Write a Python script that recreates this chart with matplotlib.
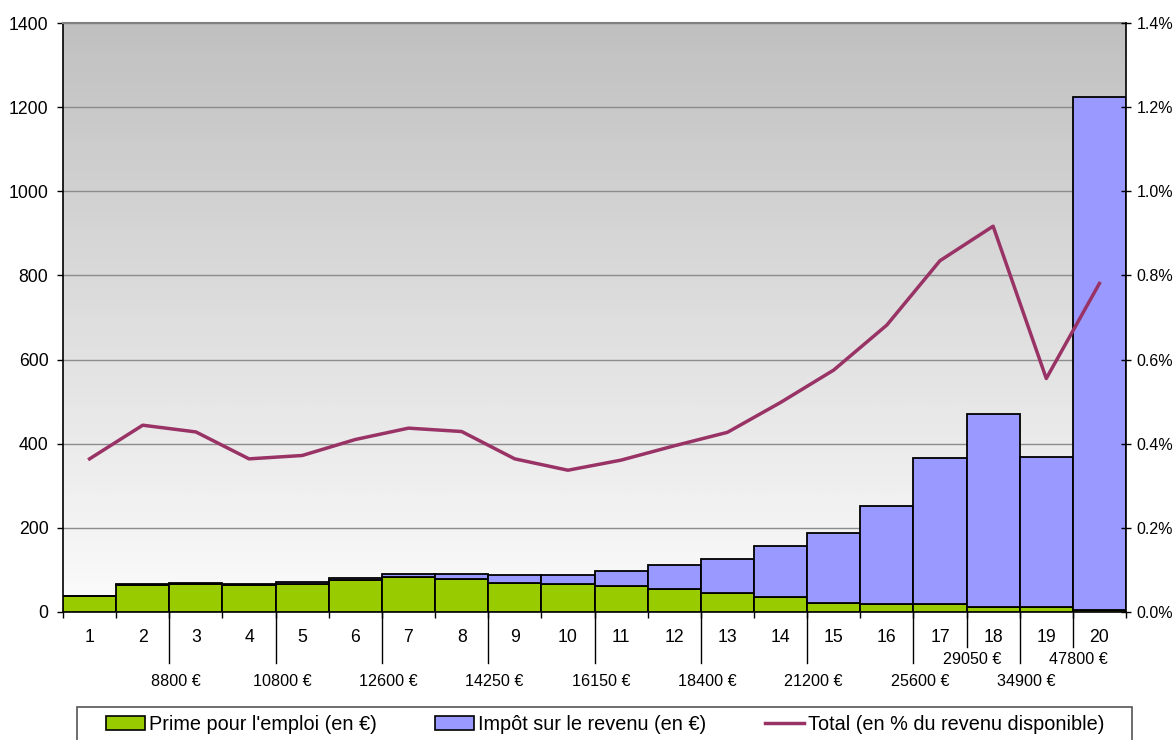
import numpy as np
import matplotlib.pyplot as plt
from matplotlib.patches import Patch, Rectangle
from matplotlib.lines import Line2D
from matplotlib.ticker import FuncFormatter, MultipleLocator
from matplotlib.transforms import blended_transform_factory

plt.rcParams["font.family"] = ["Liberation Sans", "DejaVu Sans"]

# vingtiles of income
groups = list(range(1, 21))
prime = [38, 64, 66, 63, 67, 76, 84, 79, 70, 66, 62, 54, 46, 36, 21, 19, 18, 13, 11, 5]
impot = [0, 3, 4, 3, 4, 5, 7, 12, 17, 23, 36, 57, 80, 122, 167, 232, 348, 457, 357, 1220]
total_pct = [0.364, 0.444, 0.428, 0.364, 0.372, 0.410, 0.437, 0.429, 0.364, 0.337,
             0.361, 0.395, 0.427, 0.498, 0.575, 0.682, 0.835, 0.917, 0.555, 0.781]

# income thresholds, placed on the boundary after the given vingtile
thresh_low = {2: "8800 €", 4: "10800 €", 6: "12600 €", 8: "14250 €", 10: "16150 €",
              12: "18400 €", 14: "21200 €", 16: "25600 €", 18: "34900 €"}
thresh_high = {17: "29050 €", 19: "47800 €"}

GREEN = "#99CC00"
BLUE = "#9999FF"
PLUM = "#993366"

W, H = 1176, 740
fig = plt.figure(figsize=(W / 100, H / 100), dpi=100)
ax = fig.add_axes([63 / W, 1 - 612 / H, (1126 - 63) / W, (612 - 23) / H])

x = np.array(groups)
p = np.array(prime)
i = np.array(impot)

# gradient background
grad = np.linspace(192, 252, 256).reshape(-1, 1) / 255.0
ax.imshow(np.dstack([grad, grad, grad]), extent=[0.5, 20.5, 0, 1400], origin="upper",
          aspect="auto", zorder=0, interpolation="bicubic")

ax.bar(x, p, width=1.0, color=GREEN, edgecolor="black", linewidth=1.3, zorder=3)
ax.bar(x, i, width=1.0, bottom=p, color=BLUE, edgecolor="black", linewidth=1.3, zorder=3)

ax.set_xlim(0.5, 20.5)
ax.set_ylim(0, 1400)
ax.yaxis.set_major_locator(MultipleLocator(200))
ax.grid(True, axis="y", color="#8c8c8c", linewidth=1.0, zorder=1)
ax.set_axisbelow(True)

ax.set_xticks(x)
ax.set_xticklabels([str(g) for g in groups])
ax.set_xticks(np.arange(0.5, 21, 1.0), minor=True)
ax.tick_params(axis="x", which="major", length=0, pad=12, labelsize=12.7)
ax.tick_params(axis="x", which="minor", length=4, width=1, direction="out")
ax.tick_params(axis="y", length=4.5, width=1, direction="out", pad=6, labelsize=12.7)

for s in ["left", "bottom"]:
    ax.spines[s].set_color("black")
    ax.spines[s].set_linewidth(1.2)
ax.spines["top"].set_color("#808080")
ax.spines["top"].set_linewidth(1.5)
ax.spines["right"].set_visible(False)

# secondary axis for the total line
ax2 = ax.twinx()
ax2.plot(x, total_pct, color=PLUM, linewidth=2.5, zorder=5)
ax2.set_ylim(0, 1.4)
ax2.yaxis.set_major_locator(MultipleLocator(0.2))
ax2.yaxis.set_major_formatter(FuncFormatter(lambda v, pos: f"{v:.1f}%"))
ax2.tick_params(axis="y", length=7, width=1, direction="inout", pad=4, labelsize=11.5)
ax2.spines["right"].set_color("black")
ax2.spines["right"].set_linewidth(1.2)
for s in ["top", "left", "bottom"]:
    ax2.spines[s].set_visible(False)

# multi-level category axis
trans = blended_transform_factory(ax.transData, ax.transAxes)
ax_h = 612 - 23
long_y = -51 / ax_h
mid_y = -35 / ax_h
for b in thresh_low:
    ax.add_line(Line2D([b + 0.5, b + 0.5], [0, long_y], transform=trans, color="black",
                       linewidth=1, clip_on=False))
    ax.text(b + 0.5 + 0.12, -70 / ax_h, thresh_low[b], transform=trans, ha="center",
            va="center", fontsize=11.6)
for b in thresh_high:
    ax.add_line(Line2D([b + 0.5, b + 0.5], [0, mid_y], transform=trans, color="black",
                       linewidth=1, clip_on=False))
    ax.text(b + 0.5 + 0.1, -47 / ax_h, thresh_high[b], transform=trans, ha="center",
            va="center", fontsize=11.6)

# legend with a frame running past the bottom edge
fig.patches.append(Rectangle((77 / W, -0.05), (1132 - 77) / W, 0.05 + (740 - 707) / H,
                             transform=fig.transFigure, facecolor="white",
                             edgecolor="#555555", linewidth=1.2))
handles = [
    Patch(facecolor=GREEN, edgecolor="black", linewidth=1.2, label="Prime pour l'emploi (en €)"),
    Patch(facecolor=BLUE, edgecolor="black", linewidth=1.2, label="Impôt sur le revenu (en €)"),
    Line2D([], [], color=PLUM, linewidth=2.5, label="Total (en % du revenu disponible)"),
]
fig.legend(handles=handles, loc="center left", bbox_to_anchor=(106 / W, 1 - 724 / H),
           ncol=3, frameon=False, fontsize=14.3, handlelength=1.96, handleheight=0.7,
           handletextpad=0.2, columnspacing=2.95, borderpad=0, borderaxespad=0)

fig.savefig("out.png", dpi=100)
